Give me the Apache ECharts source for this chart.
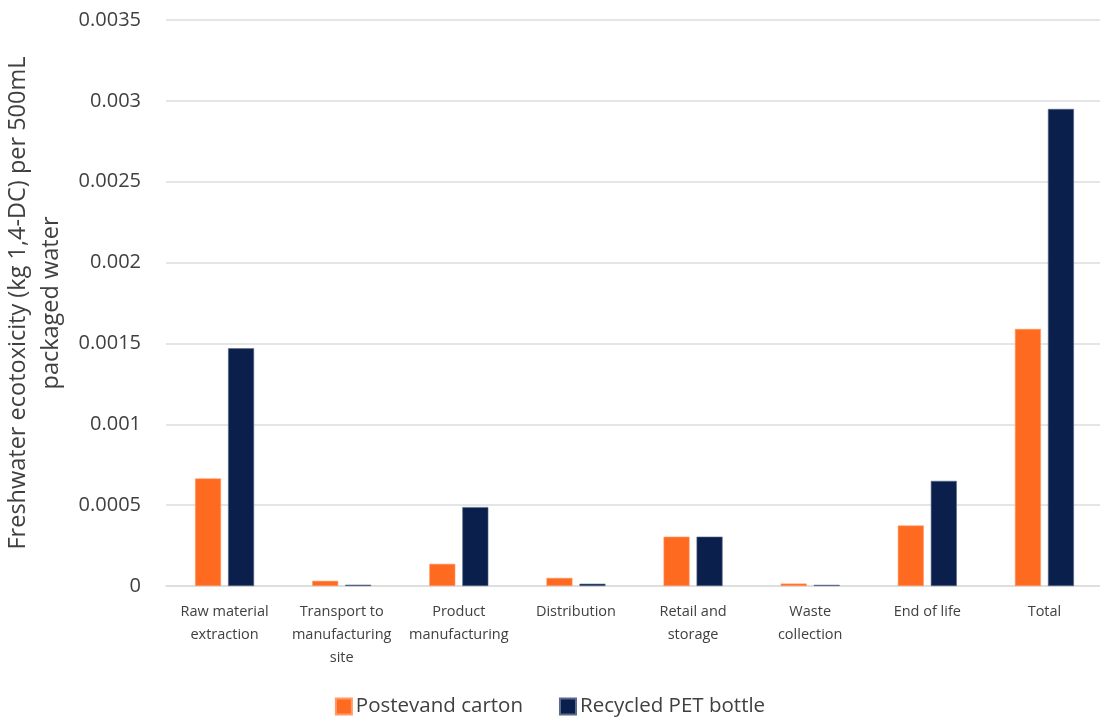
<!DOCTYPE html>
<html>
<head>
<meta charset="utf-8">
<script src="https://cdn.jsdelivr.net/npm/echarts@6/dist/echarts.min.js"></script>
<style>
  html, body { margin: 0; padding: 0; background: #ffffff; }
  #chart { width: 1100px; height: 717px; }
</style>
</head>
<body>
<div id="chart"></div>
<script>
// Life-cycle stages (x axis), with line breaks as shown under each group
const categories = [
  'Raw material\nextraction',
  'Transport to\nmanufacturing\nsite',
  'Product\nmanufacturing',
  'Distribution',
  'Retail and\nstorage',
  'Waste\ncollection',
  'End of life',
  'Total'
];

// Freshwater ecotoxicity, kg 1,4-DC per 500 mL packaged water
const postevandCarton = [0.000665, 0.000032, 0.000137, 0.00005, 0.000305, 0.000015, 0.000374, 0.00159];
const recycledPetBottle = [0.00147, 0.000008, 0.000488, 0.000014, 0.000305, 0.000007, 0.00065, 0.00295];

const seriesNames = ['Postevand carton', 'Recycled PET bottle'];
const seriesColors = ['#FF6A21', '#0A1F4B'];

const yTickMin = 0;
const yTickMax = 0.0035;
const yTickStep = 0.0005;

const axisTitle = 'Freshwater ecotoxicity (kg 1,4-DC) per 500mL\npackaged water';

const fontFamily = '"Open Sans", "Noto Sans", sans-serif';
const textColor = '#404040';

const chart = echarts.init(document.getElementById('chart'), null, { renderer: 'canvas' });

chart.setOption({
  backgroundColor: '#ffffff',
  animation: false,
  textStyle: { fontFamily: fontFamily, color: textColor },
  grid: {
    left: 166, top: 20, width: 937, bottom: 131,
    containLabel: false,
    outerBoundsMode: 'none'
  },
  legend: {
    data: seriesNames,
    top: 691,
    left: 'center',
    icon: 'rect',
    itemWidth: 16,
    itemHeight: 16,
    itemGap: 36,
    textStyle: { fontFamily: fontFamily, fontSize: 20.5, color: textColor, padding: [0, 0, 0, -1] }
  },
  xAxis: {
    type: 'category',
    data: categories,
    axisLine: { show: true, lineStyle: { color: '#dcdcdc', width: 1.5 } },
    axisTick: { show: false },
    axisLabel: {
      interval: 0,
      margin: 14,
      fontFamily: fontFamily,
      fontSize: 14.5,
      lineHeight: 23,
      color: textColor
    }
  },
  yAxis: {
    type: 'value',
    min: yTickMin,
    max: yTickMax,
    interval: yTickStep,
    name: axisTitle,
    nameLocation: 'middle',
    nameGap: 87,
    nameTextStyle: { fontFamily: fontFamily, fontSize: 23.5, lineHeight: 33, color: textColor },
    axisLine: { show: false },
    axisTick: { show: false },
    splitLine: { show: true, lineStyle: { color: '#dcdcdc', width: 1.5 } },
    axisLabel: {
      margin: 25,
      fontFamily: fontFamily,
      fontSize: 20,
      color: textColor,
      formatter: function (v) { return v === 0 ? '0' : String(parseFloat(v.toFixed(6))); }
    }
  },
  series: [
    {
      name: seriesNames[0],
      type: 'bar',
      data: postevandCarton,
      barWidth: 26,
      barGap: '27%',
      itemStyle: { color: seriesColors[0], borderColor: '#ff9a66', borderWidth: 0.6 }
    },
    {
      name: seriesNames[1],
      type: 'bar',
      data: recycledPetBottle,
      barWidth: 26,
      barGap: '27%',
      itemStyle: { color: seriesColors[1], borderColor: '#5a6a8a', borderWidth: 0.6 }
    }
  ]
});
</script>
</body>
</html>
